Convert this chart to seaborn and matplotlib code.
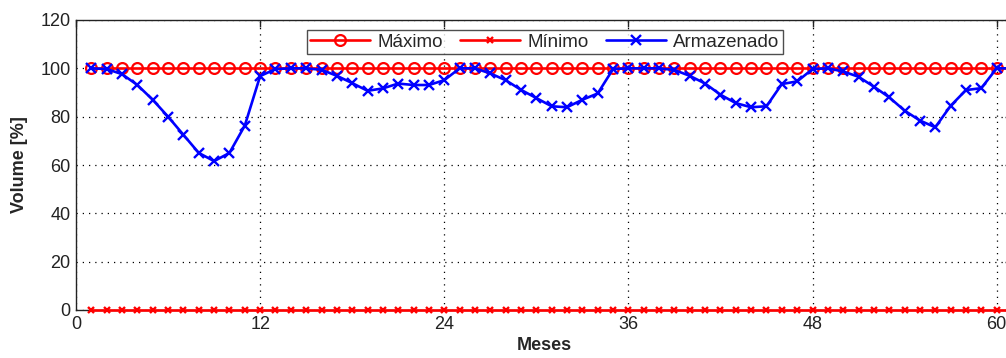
import matplotlib
matplotlib.use("Agg")
import matplotlib.pyplot as plt
import seaborn as sns
import pandas as pd

# Monthly reservoir volume, percent of capacity
meses = list(range(1, 62))
maximo = [100] * 61
minimo = [0] * 61
armazenado = [
    100, 99.7, 97.6, 93.1, 87.0, 80.0, 72.5, 65.0, 61.6, 65.0, 76.3, 96.8,
    99.7, 100, 100, 99.4, 96.9, 93.9, 90.7, 91.7, 93.7, 93.1, 93.1, 95.1,
    100, 100, 97.9, 95.1, 91.1, 87.7, 84.3, 83.9, 87.0, 89.6, 99.7, 100,
    100, 100, 99.3, 96.9, 93.7, 89.1, 85.6, 83.9, 84.3, 93.5, 94.6, 99.7,
    100, 98.7, 96.5, 92.4, 88.0, 82.5, 78.4, 75.6, 84.5, 91.0, 91.8, 100,
    100,
]
x_ticks = [0, 12, 24, 36, 48, 60]
y_ticks = [0, 20, 40, 60, 80, 100, 120]

df = pd.DataFrame({"Mes": meses, "Maximo": maximo, "Minimo": minimo,
                   "Armazenado": armazenado})

sns.set_style("white")
plt.rcParams["font.family"] = ["Liberation Sans", "DejaVu Sans"]

RED = "#ff0000"
BLUE = "#0000ff"
INK = "#222222"

fig = plt.figure(figsize=(10.06, 3.58), dpi=100)
# axes run slightly past the right edge of the figure
ax = fig.add_axes([76 / 1006, 48 / 358, (1012 - 76) / 1006, (310 - 20) / 358])

sns.lineplot(data=df, x="Mes", y="Maximo", ax=ax, color=RED,
             linewidth=1.9, marker="o", markersize=7.8, markerfacecolor="none",
             markeredgecolor=RED, markeredgewidth=1.6, label="Máximo",
             zorder=3)
sns.lineplot(data=df, x="Mes", y="Minimo", ax=ax, color=RED,
             linewidth=1.9, marker="x", markersize=5, markeredgewidth=1.7,
             markeredgecolor=RED, label="Mínimo", clip_on=False, zorder=3)
sns.lineplot(data=df, x="Mes", y="Armazenado", ax=ax, color=BLUE,
             linewidth=1.9, marker="x", markersize=6.5, markeredgewidth=1.7,
             markeredgecolor=BLUE, label="Armazenado", zorder=4)

ax.set_xlim(0, 61)
ax.set_ylim(0, 120)
ax.set_xticks(x_ticks)
ax.set_yticks(y_ticks)
ax.grid(True, color="black", linestyle=(0, (1, 4)), linewidth=0.9)
ax.set_axisbelow(True)
for s in ax.spines.values():
    s.set_color(INK)
    s.set_linewidth(1.0)
ax.tick_params(direction="in", length=5, width=1, top=True, right=True,
               labelsize=13, labelcolor=INK, color=INK, pad=4)

ax.set_xlabel("Meses", fontsize=13, fontweight="bold", labelpad=3)
ax.set_ylabel("Volume [%]", fontsize=13, fontweight="bold", labelpad=9)

leg = ax.legend(loc="upper center", bbox_to_anchor=(0.501, 0.966), ncol=3,
                fontsize=13.5, frameon=True, fancybox=False, handlelength=3.2,
                borderpad=0.2, columnspacing=0.9, handletextpad=0.4,
                borderaxespad=0)
leg.get_frame().set_edgecolor(INK)
leg.get_frame().set_linewidth(1.0)

fig.savefig("out.png", dpi=100)
